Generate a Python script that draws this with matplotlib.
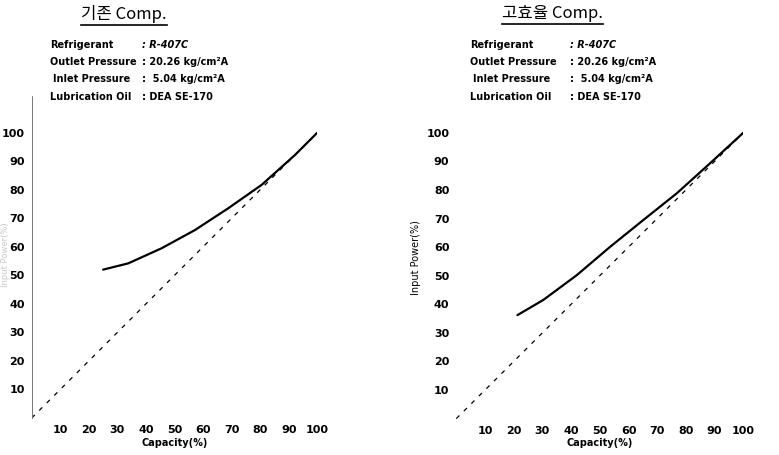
import matplotlib
matplotlib.use('Agg')
from matplotlib import pyplot as plt
from matplotlib.lines import Line2D

plt.rcParams['font.family'] = ['DejaVu Sans', 'Noto Sans CJK KR']

# data
ticks = [10, 20, 30, 40, 50, 60, 70, 80, 90, 100]
ideal = [0, 100]

old_cap = [25, 33.8, 45.5, 57.2, 68.8, 80.5, 92.2, 100]
old_pow = [52, 54.2, 59.5, 65.9, 73.5, 81.7, 92.2, 100]

new_cap = [21.3, 30.3, 42, 53.6, 65.2, 76.8, 88.4, 100]
new_pow = [36.2, 41.5, 50.2, 60.1, 69.5, 78.8, 89.3, 100]

titles = ['기존 Comp.', '고효율 Comp.']
info_names = ['Refrigerant', 'Outlet Pressure', 'Inlet Pressure', 'Lubrication Oil']
info_values = [': R-407C', ': 20.26 kg/cm²A', ':  5.04 kg/cm²A', ': DEA SE-170']

W, H = 779, 455
fig = plt.figure(figsize=(W / 100, H / 100), dpi=100)


def px(x0, y0, x1, y1):
    # pixel box (top-left origin) -> figure fraction rect
    return [x0 / W, 1 - y1 / H, (x1 - x0) / W, (y1 - y0) / H]


ax1 = fig.add_axes(px(31.7, 95.6, 317.3, 418))
ax2 = fig.add_axes(px(456.3, 95.6, 743.3, 418.6))

for ax, cap, pw in [(ax1, old_cap, old_pow), (ax2, new_cap, new_pow)]:
    ax.plot(cap, pw, color='black', lw=1.6, solid_capstyle='round',
            solid_joinstyle='round')
    ax.plot(ideal, ideal, color='black', lw=0.9, dashes=(3.5, 5))
    ax.set_xlim(0, 100)
    ax.set_ylim(0, 113)
    ax.set_xticks(ticks)
    ax.set_yticks(ticks)
    ax.tick_params(length=0, labelsize=8, pad=5)
    for lab in ax.get_xticklabels() + ax.get_yticklabels():
        lab.set_fontweight('bold')
    for s in ax.spines.values():
        s.set_visible(False)
    ax.set_xlabel('Capacity(%)', fontsize=7, fontweight='bold', labelpad=2)
    ax.patch.set_alpha(0)

# left panel keeps its dotted vertical axis
ax1.spines['left'].set_visible(True)
ax1.spines['left'].set_linestyle((0, (1, 1)))
ax1.spines['left'].set_linewidth(0.7)
ax1.spines['left'].set_color('#777777')

ax2.set_ylabel('Input Power(%)', fontsize=7, labelpad=4)
fig.text(6 / W, 1 - 255 / H, 'Input Power(%)', rotation=90, fontsize=6,
         color='#c8c8c8', ha='center', va='center')

# titles with underline
title_x = [124, 552]
title_objs = []
for tx, t in zip(title_x, titles):
    title_objs.append(fig.text(tx / W, 1 - 14 / H, t, fontsize=12, ha='center',
                               va='center',
                               family=['Noto Sans CJK KR', 'DejaVu Sans']))

# info block
info_x = [(50, 142), (470, 570)]
line_y = [45, 62, 79, 97]
for nx, vx in info_x:
    for i, (n, v) in enumerate(zip(info_names, info_values)):
        fig.text((nx + (3 if i == 2 else 0)) / W, 1 - line_y[i] / H, n,
                 fontsize=7, fontweight='bold', va='center')
        fig.text(vx / W, 1 - line_y[i] / H, v, fontsize=7,
                 fontweight='bold', va='center',
                 style='italic' if i == 0 else 'normal')

fig.canvas.draw()
r = fig.canvas.get_renderer()
for t in title_objs:
    bb = t.get_window_extent(r).transformed(fig.transFigure.inverted())
    fig.add_artist(Line2D([bb.x0, bb.x1], [bb.y0 - 0.004, bb.y0 - 0.004],
                          color='black', lw=1.2, transform=fig.transFigure))

fig.savefig('out.png', dpi=100)
